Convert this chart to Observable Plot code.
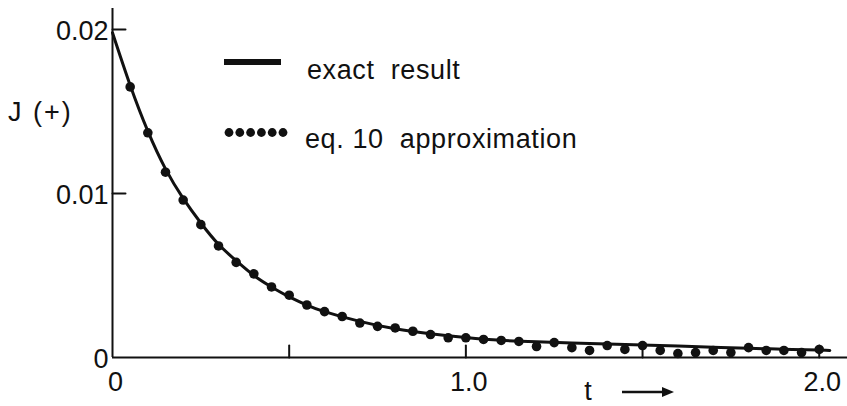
<!DOCTYPE html>
<html><head><meta charset="utf-8">
<script src="https://cdn.jsdelivr.net/npm/d3@7"></script>
<script src="https://cdn.jsdelivr.net/npm/@observablehq/plot@0.6"></script>
<style>body{margin:0;background:#fff}</style>
</head><body><div id="chart"></div>
<script>
// Exact result (solid curve)
const tExact = [0, 0.05, 0.1, 0.15, 0.2, 0.25, 0.3, 0.35, 0.4, 0.45, 0.5, 0.55, 0.6, 0.7, 0.8, 0.9, 1.0, 1.1, 1.2, 1.3, 1.4, 1.5, 1.6, 1.7, 1.8, 1.9, 2.0, 2.03];
const jExact = [0.0198, 0.0166, 0.0138, 0.0115, 0.0097, 0.0082, 0.0069, 0.0059, 0.0050, 0.0043, 0.0037, 0.0032, 0.0028, 0.0022, 0.00175, 0.00145, 0.00122, 0.00105, 0.00096, 0.00089, 0.00082, 0.00076, 0.0007, 0.00063, 0.00057, 0.0005, 0.00045, 0.00043];
// eq. 10 approximation (dots)
const tDots = [0.05, 0.1, 0.15, 0.2, 0.25, 0.3, 0.35, 0.4, 0.45, 0.5, 0.55, 0.6, 0.65, 0.7, 0.75, 0.8, 0.85, 0.9, 0.95, 1.0, 1.05, 1.1, 1.15, 1.2, 1.25, 1.3, 1.35, 1.4, 1.45, 1.5, 1.55, 1.6, 1.65, 1.7, 1.75, 1.8, 1.85, 1.9, 1.95, 2.0];
const jDots = [0.0165, 0.0137, 0.0113, 0.0096, 0.0081, 0.0068, 0.0058, 0.0051, 0.0043, 0.0038, 0.0032, 0.0028, 0.0025, 0.0021, 0.0019, 0.0018, 0.0016, 0.0014, 0.0012, 0.0012, 0.0011, 0.00104, 0.00098, 0.00067, 0.00091, 0.0006, 0.00043, 0.00073, 0.00049, 0.00073, 0.00043, 0.00024, 0.0003, 0.00043, 0.0003, 0.0006, 0.00043, 0.00043, 0.0003, 0.00049];
// Axis ticks
const xTickValues = [0, 0.5, 1, 1.5, 2];
const xTickLabels = ["0", "", "1.0", "", "2.0"];
const yTickValues = [0, 0.01, 0.02];
const yTickLabels = ["0", "0.01", "0.02"];
const legendLabels = ["exact  result", "eq. 10  approximation"];
const yLabel = "J (+)";
const xLabel = "t";

const exact = tExact.map((t, i) => ({t, j: jExact[i]}));
const approx = tDots.map((t, i) => ({t, j: jDots[i]}));
const tickShape = {draw(c, l) { c.moveTo(0, 0); c.lineTo(0, -l); }};
const font = "'Liberation Sans', Arial, sans-serif";

const chart = Plot.plot({
  width: 847, height: 406,
  marginLeft: 112, marginRight: 0, marginTop: 8, marginBottom: 49,
  x: {domain: [0, 2.08], axis: null},
  y: {domain: [0, 0.02128], axis: null},
  style: {fontFamily: font, background: "white", color: "#111"},
  marks: [
    Plot.ruleX([0], {stroke: "#111", strokeWidth: 2}),
    Plot.ruleY([0], {stroke: "#111", strokeWidth: 2}),
    Plot.vector(xTickValues.slice(1), {x: d => d, y: () => 0, length: 12, anchor: "start", shape: tickShape, stroke: "#111", strokeWidth: 2}),
    Plot.vector(yTickValues.slice(1), {x: () => 0, y: d => d, length: 13, rotate: 90, anchor: "start", shape: tickShape, stroke: "#111", strokeWidth: 2}),
    Plot.text(xTickValues, {x: d => d, y: () => 0, text: (d, i) => xTickLabels[i], dx: 3, dy: 25, fontSize: 27, fill: "#111"}),
    Plot.text(yTickValues, {x: () => 0, y: d => d, text: (d, i) => yTickLabels[i], textAnchor: "end", dx: -4, dy: 2, fontSize: 27, fill: "#111"}),
    Plot.line(exact, {x: "t", y: "j", curve: "natural", stroke: "#111", strokeWidth: 3}),
    Plot.dot(approx, {x: "t", y: "j", r: 4.8, fill: "#111"})
  ]
});
document.getElementById("chart").appendChild(chart);

// Legend and axis labels
const svg = d3.select(chart);
const g = svg.append("g").attr("font-family", font).attr("fill", "#111").attr("text-anchor", "start").style("white-space", "pre");
g.append("line").attr("x1", 224).attr("x2", 281).attr("y1", 62).attr("y2", 62).attr("stroke", "#111").attr("stroke-width", 6);
g.append("text").attr("x", 307).attr("y", 79).attr("font-size", 27).attr("letter-spacing", 0.6).text(legendLabels[0]);
for (let i = 0; i < 6; i++) {
  g.append("circle").attr("cx", 229 + i * 10.8).attr("cy", 132.5).attr("r", 4.4).attr("fill", "#111");
}
g.append("text").attr("x", 305).attr("y", 148).attr("font-size", 27).attr("letter-spacing", 0.6).text(legendLabels[1]);
g.append("text").attr("x", 8).attr("y", 121).attr("font-size", 27).attr("letter-spacing", 2).text(yLabel);
g.append("text").attr("x", 588).attr("y", 400).attr("text-anchor", "middle").attr("font-size", 27).text(xLabel);
g.append("line").attr("x1", 622).attr("x2", 664).attr("y1", 392).attr("y2", 392).attr("stroke", "#111").attr("stroke-width", 2.5);
g.append("path").attr("d", "M662,387 L674,392 L662,397 Z").attr("fill", "#111");
</script>
</body></html>
